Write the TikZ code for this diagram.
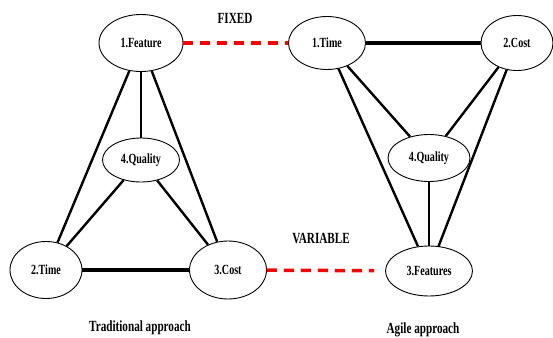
\documentclass[tikz,border=0pt]{standalone}
\usepackage{fontspec}
\setmainfont{Liberation Serif}[FakeStretch=0.72]
\usetikzlibrary{shapes.geometric,positioning}
\tikzset{
  oval/.style={ellipse, draw, line width=0.9pt, inner sep=0pt,
    font=\fontsize{14}{16}\selectfont\bfseries},
  link/.style={line width=2.4pt},
  fixline/.style={red, line width=3.5pt, dash pattern=on 10pt off 7pt},
  caption/.style={font=\fontsize{15.5}{18}\selectfont\bfseries}
}
\begin{document}
\begin{tikzpicture}[x=1pt,y=-1pt,on grid]
   \useasboundingbox (0,0) rectangle (553,337);
   \node [oval,minimum width=84pt,minimum height=57pt] (t_1) at (141,43) {1.Feature};
   \node [oval,minimum width=77pt,minimum height=44pt] (t_4) [below=117pt of t_1] {4.Quality};
   \node [oval,minimum width=72pt,minimum height=57pt] (t_2) [below left=227pt and 95pt of t_1] {2.Time};
   \node [oval,minimum width=77pt,minimum height=58pt] (t_3) [right=182pt of t_2] {3.Cost};
   \node [oval,minimum width=77pt,minimum height=53pt] (a_1) [right=186pt of t_1] {1.Time};
   \node [oval,minimum width=72pt,minimum height=55pt] (a_2) [right=190pt of a_1] {2.Cost};
   \node [oval,minimum width=82pt,minimum height=47pt] (a_4) [below right=115pt and 102pt of a_1] {4.Quality};
   \node [oval,minimum width=87pt,minimum height=50pt] (a_3) [below=113pt of a_4] {3.Features};
   \node [caption] (fixed) at (235,18) {FIXED};
   \node [caption] (variable) at (321,238) {VARIABLE};
   \node [caption] (trad) at (140,328) {Traditional approach};
   \node [caption] (agile) at (423,330) {Agile approach};
    \path[link]
    (t_1) edge (t_2)
          edge (t_4)
          edge (t_3)
    (t_4) edge (t_2)
          edge (t_3)
    (t_2) edge [line width=3.6pt] (t_3)
    (a_1) edge [line width=3.2pt] (a_2)
          edge (a_4)
          edge (a_3)
    (a_2) edge (a_4)
          edge (a_3)
    (a_4) edge (a_3);
    \path[fixline]
    (t_1) edge (a_1)
    (t_3) edge [shorten >=11pt] (a_3);
\end{tikzpicture}
\end{document}
